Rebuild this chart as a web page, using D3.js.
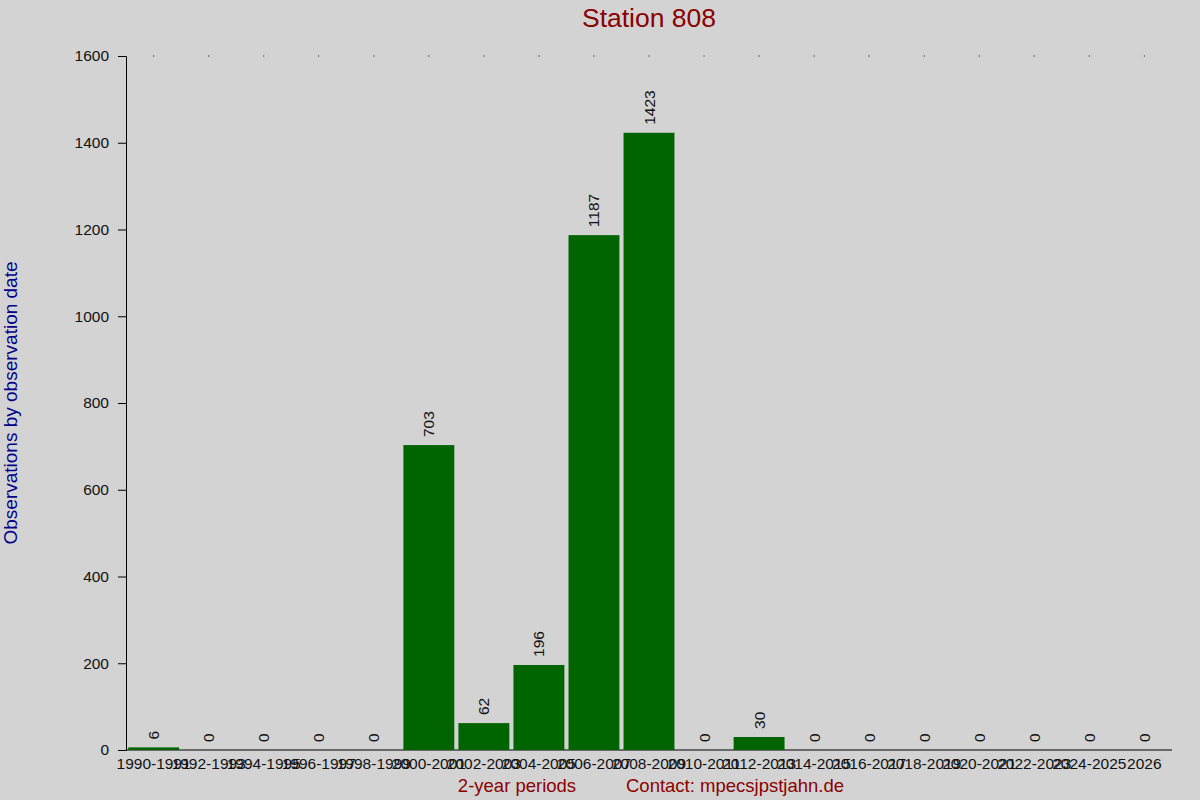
<!DOCTYPE html>
<html>
<head>
<meta charset="utf-8">
<script src="https://cdn.jsdelivr.net/npm/d3@7"></script>
<style>
  body { margin: 0; background: #d3d3d3; }
  svg { display: block; font-family: "Liberation Sans", Arial, sans-serif; }
</style>
</head>
<body>
<div id="chart"></div>
<script>
const periods = [
  "1990-1991", "1992-1993", "1994-1995", "1996-1997", "1998-1999",
  "2000-2001", "2002-2003", "2004-2005", "2006-2007", "2008-2009",
  "2010-2011", "2012-2013", "2014-2015", "2016-2017", "2018-2019",
  "2020-2021", "2022-2023", "2024-2025", "2026"
];
const counts = [6, 0, 0, 0, 0, 703, 62, 196, 1187, 1423, 0, 30, 0, 0, 0, 0, 0, 0, 0];
const yTicks = [0, 200, 400, 600, 800, 1000, 1200, 1400, 1600];

const width = 1200;
const height = 800;
const margin = { top: 56, right: 28, bottom: 50, left: 126 };

const data = periods.map((p, i) => ({ period: p, count: counts[i] }));

const svg = d3
  .select("#chart")
  .append("svg")
  .attr("width", width)
  .attr("height", height);

svg
  .append("rect")
  .attr("width", width)
  .attr("height", height)
  .attr("fill", "#d3d3d3");

const x = d3
  .scaleBand()
  .domain(periods)
  .range([margin.left, width - margin.right])
  .paddingInner(0.075)
  .paddingOuter(0.04);

const y = d3
  .scaleLinear()
  .domain([0, 1600])
  .range([height - margin.bottom, margin.top]);

// y axis
const yAxis = svg
  .append("g")
  .attr("transform", `translate(${margin.left}, 0)`)
  .call(
    d3.axisLeft(y)
      .tickValues(yTicks)
      .tickFormat(d3.format("d"))
      .tickSize(8)
      .tickPadding(9)
  );
yAxis.select(".domain").attr("stroke", "#000");
yAxis.selectAll("line").attr("stroke", "#000");
yAxis
  .selectAll("text")
  .style("font-size", "15.5px")
  .attr("fill", "#111");

// x axis
const xAxis = svg
  .append("g")
  .attr("transform", `translate(0, ${height - margin.bottom})`)
  .call(d3.axisBottom(x).tickSize(0).tickPadding(8).tickSizeOuter(0));
xAxis
  .select(".domain")
  .attr("stroke", "#000")
  .attr("d", `M${margin.left},0H${width - margin.right}`);
xAxis
  .selectAll("text")
  .style("font-size", "15.5px")
  .attr("fill", "#111");

// small dots along the top
svg
  .selectAll(".top-dot")
  .data(data)
  .enter()
  .append("rect")
  .attr("class", "top-dot")
  .attr("x", (d) => x(d.period) + x.bandwidth() / 2 - 0.5)
  .attr("y", y(1600) - 0.5)
  .attr("width", 1)
  .attr("height", 1)
  .attr("fill", "#000");

// bars
svg
  .selectAll(".bar")
  .data(data)
  .enter()
  .append("rect")
  .attr("class", "bar")
  .attr("x", (d) => x(d.period))
  .attr("y", (d) => y(d.count))
  .attr("width", x.bandwidth())
  .attr("height", (d) => y(0) - y(d.count))
  .attr("fill", "#006400");

// value labels
svg
  .selectAll(".value")
  .data(data)
  .enter()
  .append("text")
  .attr("class", "value")
  .attr(
    "transform",
    (d) => `translate(${x(d.period) + x.bandwidth() / 2}, ${y(d.count) - 8}) rotate(-90)`
  )
  .attr("dominant-baseline", "central")
  .attr("text-anchor", "start")
  .style("font-size", "15.5px")
  .attr("fill", "#111")
  .text((d) => d.count);

// title
svg
  .append("text")
  .attr("x", (margin.left + width - margin.right) / 2)
  .attr("y", 27)
  .attr("text-anchor", "middle")
  .style("font-size", "26.5px")
  .attr("fill", "#8b0000")
  .text("Station 808");

// axis titles
svg
  .append("text")
  .attr("x", 517)
  .attr("y", 792)
  .attr("text-anchor", "middle")
  .style("font-size", "18.5px")
  .attr("fill", "#8b0000")
  .text("2-year periods");

svg
  .append("text")
  .attr("x", 626)
  .attr("y", 792)
  .attr("text-anchor", "start")
  .style("font-size", "18.5px")
  .attr("fill", "#8b0000")
  .text("Contact: mpecsjpstjahn.de");

svg
  .append("text")
  .attr("transform", `translate(17, 403) rotate(-90)`)
  .attr("text-anchor", "middle")
  .style("font-size", "19px")
  .attr("fill", "#00008b")
  .text("Observations by observation date");
</script>
</body>
</html>
